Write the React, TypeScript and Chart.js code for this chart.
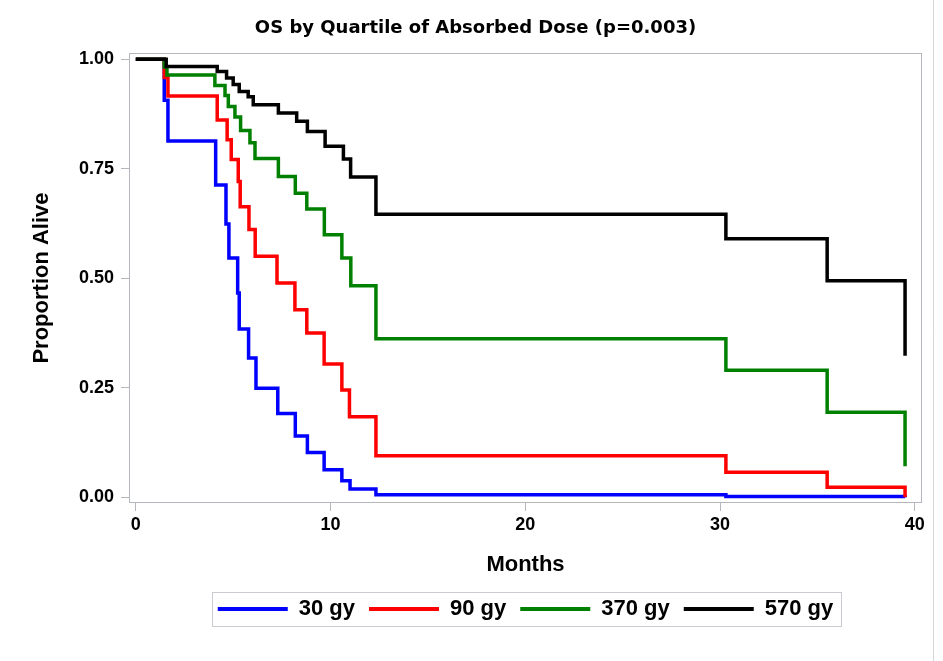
import React, { useEffect, useRef } from "react";
import { Chart, registerables } from "chart.js";

Chart.register(...registerables);

const chartTitle = "OS by Quartile of Absorbed Dose (p=0.003)";
const xAxisTitle = "Months";
const yAxisTitle = "Proportion Alive";
const seriesLabels = ["30 gy", "90 gy", "370 gy", "570 gy"];
const seriesColors = ["#0000FF", "#FF0000", "#008000", "#000000"];
const xTickValues = [0, 10, 20, 30, 40];
const yTickValues = [0, 0.25, 0.5, 0.75, 1];

// 30 gy
const months30 = [0, 1.46, 1.65, 4.1, 4.63, 4.78, 5.23, 5.31, 5.79, 6.17, 7.29, 8.19, 8.81, 9.67, 10.58, 11.0, 12.33, 30.3, 39.5];
const surv30 = [1.0, 0.906, 0.813, 0.713, 0.624, 0.546, 0.466, 0.384, 0.318, 0.249, 0.191, 0.14, 0.102, 0.063, 0.038, 0.019, 0.006, 0.002, 0.0];

// 90 gy
const months90 = [0, 1.46, 1.65, 4.18, 4.69, 4.9, 5.26, 5.36, 5.81, 6.13, 7.25, 8.17, 8.78, 9.67, 10.58, 10.97, 12.33, 30.3, 35.5, 39.5];
const surv90 = [1.0, 0.958, 0.916, 0.861, 0.816, 0.771, 0.721, 0.663, 0.611, 0.55, 0.489, 0.428, 0.375, 0.304, 0.245, 0.184, 0.095, 0.057, 0.023, 0.0];

// 370 gy
const months370 = [0, 1.46, 1.6, 4.06, 4.58, 4.75, 5.09, 5.38, 5.86, 6.12, 7.32, 8.19, 8.78, 9.68, 10.58, 11.04, 12.33, 30.3, 35.5, 39.5];
const surv370 = [1.0, 0.982, 0.964, 0.94, 0.917, 0.892, 0.868, 0.837, 0.809, 0.773, 0.732, 0.694, 0.658, 0.599, 0.546, 0.483, 0.362, 0.29, 0.194, 0.071];

// 570 gy
const months570 = [0, 1.56, 4.18, 4.66, 5.0, 5.31, 5.77, 6.03, 7.32, 8.26, 8.81, 9.72, 10.66, 11.03, 12.33, 30.3, 35.5, 39.5];
const surv570 = [1.0, 0.983, 0.972, 0.957, 0.942, 0.926, 0.914, 0.896, 0.877, 0.858, 0.835, 0.801, 0.772, 0.731, 0.646, 0.59, 0.494, 0.323];

const seriesMonths = [months30, months90, months370, months570];
const seriesSurv = [surv30, surv90, surv370, surv570];

const SANS = "'Liberation Sans', Arial, sans-serif";
const LEGEND_FONT = 22;
const LEGEND_PAD = 14;
const FRAME = "#B4B8BC";

const framePlugin = {
  id: "frame",
  beforeDraw(chart: any) {
    const lg = chart.legend;
    const ca = chart.chartArea;
    if (lg && ca) {
      lg.left = ca.left;
      lg.right = ca.right;
    }
  },
  beforeDatasetsDraw(chart: any) {
    const { ctx, chartArea: ca } = chart;
    ctx.save();
    ctx.strokeStyle = FRAME;
    ctx.lineWidth = 1;
    ctx.strokeRect(Math.round(ca.left) + 0.5, Math.round(ca.top) + 0.5, Math.round(ca.right - ca.left) - 1, Math.round(ca.bottom - ca.top) - 1);
    ctx.restore();
  },
  afterDraw(chart: any) {
    const { ctx } = chart;
    const lg = chart.legend;
    ctx.save();
    if (lg && lg.lineWidths) {
      const lw = lg.lineWidths[0];
      const start = (lg.left + LEGEND_PAD + lg.right - lw) / 2;
      const end = start + lw - LEGEND_PAD;
      const cy = lg.top + LEGEND_PAD + LEGEND_FONT / 2;
      ctx.strokeStyle = "#C8CCD0";
      ctx.lineWidth = 1;
      const x0 = Math.round(start - 6) + 0.5;
      const y0 = Math.round(cy - 17) + 0.5;
      ctx.strokeRect(x0, y0, Math.round(end + 8 - x0), 34);
    }
    ctx.strokeStyle = "#D4D6D8";
    ctx.beginPath();
    ctx.moveTo(933.5, 0);
    ctx.lineTo(933.5, 661);
    ctx.stroke();
    ctx.restore();
  },
};

export default function App() {
  const ref = useRef<HTMLCanvasElement | null>(null);

  useEffect(() => {
    if (!ref.current) return;
    const datasets = seriesLabels.map((label, i) => ({
      label,
      data: seriesMonths[i].map((m, j) => ({ x: m, y: seriesSurv[i][j] })),
      borderColor: seriesColors[i],
      backgroundColor: seriesColors[i],
      borderWidth: 3.5,
      pointRadius: 0,
      pointHoverRadius: 0,
      stepped: "before" as const,
      fill: false,
      order: seriesLabels.length - 1 - i,
    }));

    const chart = new Chart(ref.current, {
      type: "line",
      data: { datasets },
      plugins: [framePlugin],
      options: {
        animation: false,
        responsive: false,
        devicePixelRatio: 1,
        layout: { padding: { left: 29, right: 21, top: 0, bottom: 31 } },
        plugins: {
          tooltip: { enabled: false },
          title: {
            display: true,
            text: chartTitle,
            color: "#000",
            font: { family: "'DejaVu Sans', sans-serif", size: 18, weight: "bold" },
            padding: { top: 18, bottom: 13.4 },
          },
          legend: {
            display: true,
            position: "bottom",
            labels: {
              color: "#000",
              font: { family: SANS, size: LEGEND_FONT, weight: "bold" },
              boxWidth: 70,
              boxHeight: 4,
              padding: LEGEND_PAD,
              generateLabels: (c: any) =>
                c.data.datasets.map((ds: any, i: number) => ({
                  text: ds.label,
                  fillStyle: ds.borderColor,
                  strokeStyle: ds.borderColor,
                  lineWidth: 0,
                  hidden: false,
                  datasetIndex: i,
                  fontColor: "#000",
                })),
            },
          },
        },
        scales: {
          x: {
            type: "linear",
            min: -0.35,
            max: 40.37,
            afterBuildTicks: (s: any) => {
              s.ticks = xTickValues.map((v) => ({ value: v }));
            },
            afterFit: (s: any) => {
              s.height = 81;
            },
            border: { display: false },
            grid: { display: true, drawOnChartArea: false, drawTicks: true, tickLength: 8, color: FRAME },
            ticks: {
              color: "#000",
              padding: 3,
              maxRotation: 0,
              font: { family: SANS, size: 18, weight: "bold" },
              callback: (v: any) => String(v),
            },
            title: {
              display: true,
              text: xAxisTitle,
              color: "#000",
              font: { family: SANS, size: 22, weight: "bold" },
              padding: { top: 0, bottom: 6 },
            },
          },
          y: {
            type: "linear",
            min: -0.013,
            max: 1.014,
            afterBuildTicks: (s: any) => {
              s.ticks = yTickValues.map((v) => ({ value: v }));
            },
            afterFit: (s: any) => {
              s.width = 100;
            },
            border: { display: false },
            grid: { display: true, drawOnChartArea: false, drawTicks: true, tickLength: 8, color: FRAME },
            ticks: {
              color: "#000",
              padding: 7,
              font: { family: SANS, size: 18, weight: "bold" },
              callback: (v: any) => Number(v).toFixed(2),
            },
            title: {
              display: true,
              text: yAxisTitle,
              color: "#000",
              font: { family: SANS, size: 22, weight: "bold" },
              padding: { top: 0, bottom: 0 },
            },
          },
        },
      },
    } as any);
    return () => chart.destroy();
  }, []);

  return (
    <div style={{ position: "absolute", left: 0, top: 0, width: 943, height: 661, background: "#fff" }}>
      <canvas ref={ref} width={943} height={661} style={{ display: "block", width: 943, height: 661 }} />
    </div>
  );
}
